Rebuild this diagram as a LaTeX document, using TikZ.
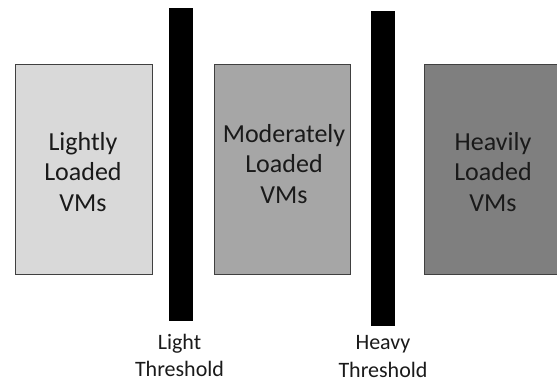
\documentclass[tikz,border=0pt]{standalone}
\usepackage{fontspec}
\setmainfont{Carlito}
\definecolor{lightfill}{HTML}{D9D9D9}
\definecolor{modfill}{HTML}{A6A6A6}
\definecolor{heavyfill}{HTML}{7F7F7F}
\definecolor{edgegray}{HTML}{404040}
\definecolor{txt}{HTML}{1A1A1A}
\begin{document}
\begin{tikzpicture}[x=1pt,y=-1pt,
  vmbox/.style={draw=edgegray,line width=0.8pt},
  bar/.style={fill=black,draw=none},
  boxtext/.style={align=center,text=txt,inner sep=0pt,font=\fontsize{26}{30.5}\selectfont},
  lbl/.style={align=center,text=txt,inner sep=0pt,font=\fontsize{22}{27.5}\selectfont}]
\useasboundingbox (0,0) rectangle (557,383);
\begin{scope}
\clip (0,0) rectangle (557,383);
\draw[vmbox,fill=lightfill] (15,64) rectangle (152,274);
\draw[vmbox,fill=modfill] (214,64) rectangle (350,274);
\draw[vmbox,fill=heavyfill] (424,64) rectangle (562,274);
\fill[bar] (169,8) rectangle (193,321);
\fill[bar] (371,11) rectangle (395,326);
\end{scope}
\node[boxtext] (t1) at (83,172) {Lightly\\Loaded\\VMs};
\node[boxtext] (t2) at (284,164) {Moderately\\Loaded\\VMs};
\node[boxtext] (t3) at (493,172) {Heavily\\Loaded\\VMs};
\node[lbl] (l1) at (179.5,355.5) {Light\\Threshold};
\node[lbl] (l2) at (383,356.5) {Heavy\\Threshold};
\end{tikzpicture}
\end{document}
